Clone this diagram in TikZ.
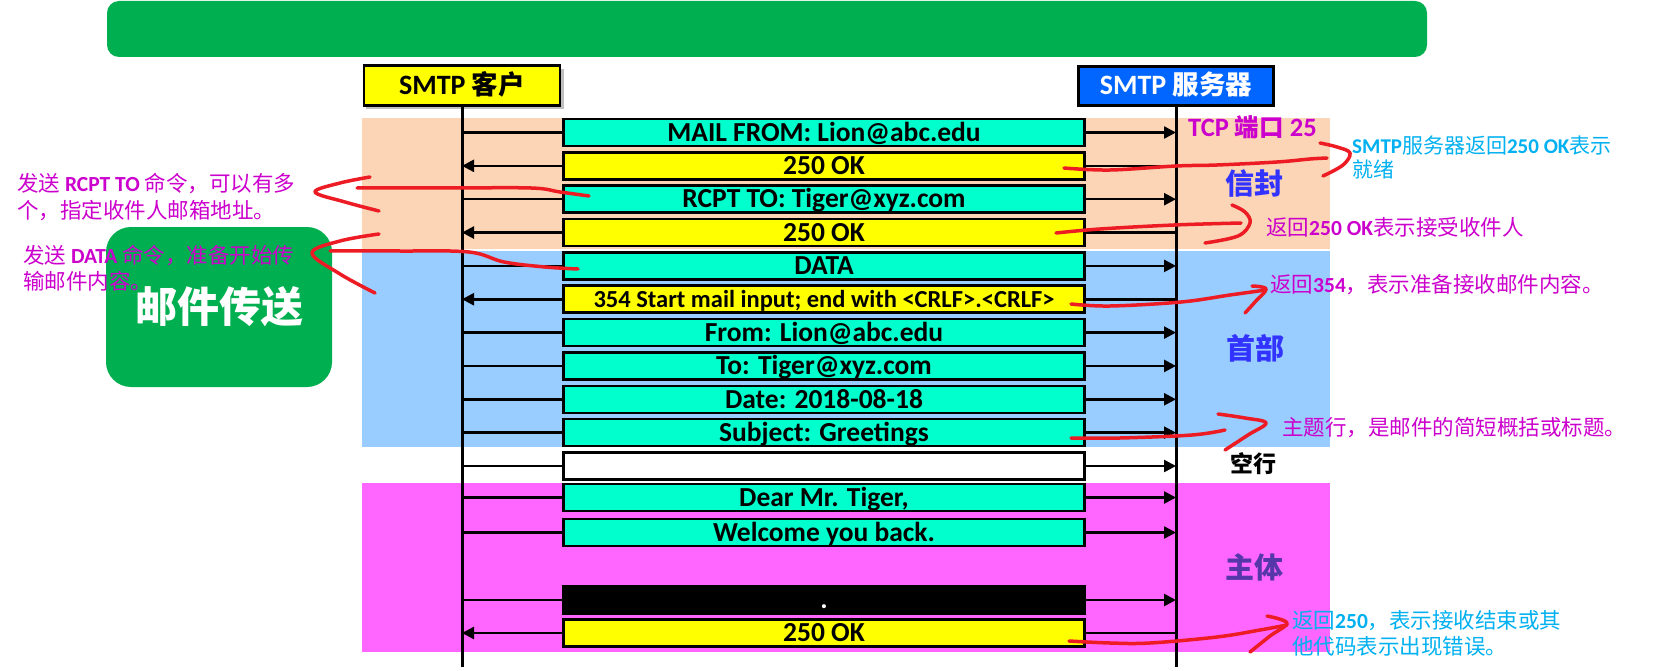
\documentclass[tikz,border=0pt]{standalone}
\usepackage{fontspec}
\setmainfont{Carlito}
\newfontfamily\cjk{Noto Sans CJK SC}
\usetikzlibrary{arrows.meta}
\newcommand\myfs[2]{\fontsize{#1pt}{#2pt}\selectfont}
\newcommand\latb[1]{{\rmfamily\bfseries #1}}
\definecolor{topgreen}{RGB}{0,176,80}
\definecolor{peach}{RGB}{251,213,181}
\definecolor{ltblue}{RGB}{153,204,255}
\definecolor{pinkbg}{RGB}{255,102,255}
\definecolor{msgcyan}{RGB}{0,255,204}
\definecolor{msgyel}{RGB}{255,255,0}
\definecolor{srvblue}{RGB}{0,102,255}
\definecolor{annmag}{RGB}{204,0,204}
\definecolor{anncyan}{RGB}{0,176,240}
\definecolor{lblblue}{RGB}{51,51,255}
\definecolor{lblpurp}{RGB}{85,55,170}
\definecolor{penred}{RGB}{237,28,36}
\begin{document}
\begin{tikzpicture}[x=1pt,y=-1pt,
  msg/.style={draw=black, line width=2.6pt, minimum width=521.5pt, minimum height=27pt, inner sep=0pt, font=\bfseries\myfs{27.5}{30}, text height=17.5pt, text depth=0pt},
  cy/.style={msg, fill=msgcyan},
  yl/.style={msg, fill=msgyel},
  conn/.style={line width=2.5pt, draw=black},
  arr/.style={-{Triangle[length=12pt,width=12pt]}},
  life/.style={line width=3pt, draw=black},
  pen/.style={draw=penred, line width=3.5pt, line cap=round, line join=round},
  ann/.style={inner sep=0pt, anchor=west, align=left},
  lbl/.style={inner sep=0pt, font=\cjk\bfseries\myfs{29}{30}},
  actor/.style={draw=black, line width=2.7pt, inner sep=0pt, font=\bfseries\myfs{28}{30}, text height=18pt, text depth=0pt}
  ]
\useasboundingbox (0,0) rectangle (1654,671);
% title bar
\fill[topgreen, rounded corners=12pt] (107,1) rectangle (1427,57);
% regions
\fill[peach] (362,118) rectangle (1330,249);
\fill[ltblue] (362,250.5) rectangle (1330,447);
\fill[pinkbg] (362,483) rectangle (1330,652);
% actors
\fill[black!25] (366,69.3) rectangle (564,109.3);
\node[actor, fill=msgyel, minimum width=196pt, minimum height=40pt] (cli) at (462,85.3) {SMTP {\cjk\myfs{26.5}{30}客户}};
\node[actor, fill=srvblue, text=white, minimum width=195pt, minimum height=39pt] (srv) at (1176,86) {SMTP {\cjk\myfs{26.5}{30}服务器}};
\coordinate (clTop) at (cli.south);
\coordinate (svTop) at (srv.south);
\coordinate (clBot) at (462,667);
\coordinate (svBot) at (1176,667);
\draw[life] (clTop) -- (clBot);
\draw[life] (svTop) -- (svBot);
% messages
\node[cy] (m0) at (824,132.5) {MAIL FROM: Lion@abc.edu};
\node[yl] (m1) at (824,165.85) {250 OK};
\node[cy] (m2) at (824,199.2) {RCPT TO: Tiger@xyz.com};
\node[yl] (m3) at (824,232.55) {250 OK};
\node[cy] (m4) at (824,265.9) {DATA};
\node[yl, font=\bfseries\myfs{24.5}{26}, text height=15.8pt] (m5) at (824,299.25) {354 Start mail input; end with <CRLF>.<CRLF>};
\node[cy] (m6) at (824,332.6) {From: Lion@abc.edu};
\node[cy] (m7) at (824,365.95) {To: Tiger@xyz.com};
\node[cy] (m8) at (824,399.3) {Date: 2018-08-18};
\node[cy] (m9) at (824,432.65) {Subject: Greetings};
\node[msg, fill=white] (m10) at (824,466) {};
\node[cy] (m11) at (824,497.5) {Dear Mr. Tiger,};
\node[cy] (m12) at (824,532.5) {Welcome you back.};
\node[msg, fill=black, text=white] (m14) at (824,600) {.};
\node[yl] (m15) at (824,633) {250 OK};
% connectors
\foreach \k in {0,2,4,6,7,8,9,10,11,12,14}{
  \draw[conn] (m\k.west) -- (m\k.west -| clTop);
  \draw[conn,arr] (m\k.east) -- (m\k.east -| svTop);
}
\foreach \k in {1,3,5,15}{
  \draw[conn] (m\k.east) -- (m\k.east -| svTop);
  \draw[conn,arr] (m\k.west) -- (m\k.west -| clTop);
}
% section labels
\node[inner sep=0pt, anchor=west, text=annmag, font=\bfseries\myfs{26.5}{28}] (tcp) at (1188,127) {TCP {\cjk\myfs{24.5}{28}端口} 25};
\node[lbl, text=lblblue] (env) at (1254,183) {信封};
\node[lbl, text=lblblue] (hdr) at (1255,348) {首部};
\node[inner sep=0pt, font=\cjk\bfseries\myfs{23}{24}] (blank) at (1253,464) {空行};
\node[lbl, text=lblpurp] (body) at (1254,567) {主体};
% mail transfer box
\node[fill=topgreen, rounded corners=25pt, minimum width=226pt, minimum height=160pt, inner sep=0pt, text=white, font=\cjk\bfseries\myfs{42}{44}] (xfer) at (219,307) {邮件传送};
% annotations
\node[ann, text=annmag, font=\cjk\myfs{21.5}{27.5}] (a1) at (17,197) {发送 \latb{RCPT TO} 命令，可以有多\\个，指定收件人邮箱地址。};
\node[ann, text=annmag, font=\cjk\myfs{21.5}{25.5}] (a2) at (23,268) {发送 \latb{DATA} 命令，准备开始传\\输邮件内容。};
\node[ann, text=anncyan, font=\cjk\myfs{21}{24}] (a3) at (1352,158) {\latb{SMTP}服务器返回\latb{250 OK}表示\\就绪};
\node[ann, text=annmag, font=\cjk\myfs{21.5}{26}] (a4) at (1266,227) {返回\latb{250 OK}表示接受收件人};
\node[ann, text=annmag, font=\cjk\myfs{21.5}{26}] (a5) at (1270,285) {返回\latb{354}，表示准备接收邮件内容。};
\node[ann, text=annmag, font=\cjk\myfs{21.5}{26}] (a6) at (1282,428) {主题行，是邮件的简短概括或标题。};
\node[ann, text=anncyan, font=\cjk\myfs{21.5}{26}] (a7) at (1292,633) {返回\latb{250}，表示接收结束或其\\他代码表示出现错误。};
% red pen strokes
\draw[pen] plot[smooth, tension=0.6] coordinates {(1064,168) (1110,170) (1176,166) (1217,165) (1277,162) (1310,159) (1327,158)};
\draw[pen] plot[smooth, tension=0.6] coordinates {(1320,143) (1337,147) (1350,153) (1343,165) (1323,176)};
\draw[pen] plot[smooth, tension=0.6] coordinates {(1056,233) (1100,229) (1174,225) (1241,223)};
\draw[pen] plot[smooth, tension=0.6] coordinates {(1232,205) (1245,212) (1250,223) (1238,236) (1205,243)};
\draw[pen] plot[smooth, tension=0.6] coordinates {(1071,304) (1110,306) (1181,302) (1230,295) (1266,290)};
\draw[pen] plot[smooth, tension=0.6] coordinates {(1252,286) (1266,289) (1255,302) (1245,313)};
\draw[pen] plot[smooth, tension=0.6] coordinates {(1071,438) (1120,438) (1192,435) (1225,430)};
\draw[pen] plot[smooth, tension=0.6] coordinates {(1218,414) (1245,418) (1266,423) (1248,435) (1225,450)};
\draw[pen] plot[smooth, tension=0.6] coordinates {(1069,641) (1110,643) (1150,643) (1217,637) (1260,630) (1287,625)};
\draw[pen] plot[smooth, tension=0.6] coordinates {(1267,616) (1287,623) (1270,636) (1250,652)};
\draw[pen] plot[smooth, tension=0.6] coordinates {(589,196) (560,192) (531,188) (446,188) (357,188)};
\draw[pen] plot[smooth, tension=0.6] coordinates {(370,177) (340,183) (315,192) (345,202) (379,211)};
\draw[pen] plot[smooth, tension=0.6] coordinates {(578,269) (545,267) (504,262) (469,252) (400,251) (330,251)};
\draw[pen] plot[smooth, tension=0.6] coordinates {(379,234) (340,241) (312,253) (340,274) (375,293)};
\end{tikzpicture}
\end{document}
